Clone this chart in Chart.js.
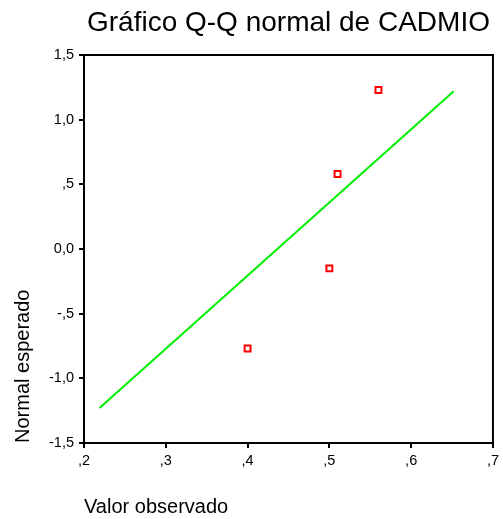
<!DOCTYPE html>
<html>
<head>
<meta charset="utf-8">
<script src="https://cdn.jsdelivr.net/npm/chart.js@4/dist/chart.umd.min.js"></script>
<style>
  html, body { margin: 0; padding: 0; background: #fff; }
  #wrap { width: 503px; height: 519px; }
</style>
</head>
<body>
<div id="wrap"><canvas id="qq"></canvas></div>
<script>
// Observed CADMIO values and their expected normal scores
const observed = [0.40, 0.50, 0.51, 0.56];
const expectedNormal = [-0.77, -0.15, 0.58, 1.23];

// Reference line endpoints (observed value -> expected normal)
const refLineX = [0.219, 0.652];
const refLineY = [-1.23, 1.22];

// Axis tick labels (SPSS-style decimal comma)
const xTickValues = [0.2, 0.3, 0.4, 0.5, 0.6, 0.7];
const xTickLabels = [',2', ',3', ',4', ',5', ',6', ',7'];
const yTickValues = [-1.5, -1.0, -0.5, 0.0, 0.5, 1.0, 1.5];
const yTickLabels = ['-1,5', '-1,0', '-,5', '0,0', ',5', '1,0', '1,5'];

const FONT = "'Liberation Sans', Arial, Helvetica, sans-serif";

function labelFor(values, labels, v) {
  const i = values.findIndex(t => Math.abs(t - v) < 1e-6);
  return i >= 0 ? labels[i] : '';
}

// Closed black frame round the plot area
const frame = {
  id: 'frame',
  afterDatasetsDraw(chart) {
    const { ctx, chartArea: a } = chart;
    ctx.save();
    ctx.strokeStyle = '#000';
    ctx.lineWidth = 2;
    ctx.strokeRect(a.left, a.top, a.right - a.left, a.bottom - a.top);
    ctx.restore();
  }
};

new Chart(document.getElementById('qq'), {
  type: 'scatter',
  data: {
    datasets: [
      {
        label: 'Observado',
        data: observed.map((x, i) => ({ x, y: expectedNormal[i] })),
        pointStyle: 'rect',
        pointRadius: 4.2,
        pointHoverRadius: 4.2,
        borderColor: '#ff0000',
        backgroundColor: '#ffffff',
        borderWidth: 2,
        showLine: false,
        order: 1
      },
      {
        label: 'Recta',
        data: refLineX.map((x, i) => ({ x, y: refLineY[i] })),
        showLine: true,
        borderColor: '#00ee00',
        borderWidth: 2,
        pointRadius: 0,
        fill: false,
        order: 2
      }
    ]
  },
  options: {
    responsive: true,
    maintainAspectRatio: false,
    animation: false,
    layout: { padding: { top: 0, right: 7, bottom: 0, left: 0 } },
    plugins: {
      legend: { display: false },
      tooltip: { enabled: false },
      title: {
        display: true,
        text: 'Gráfico Q-Q normal de CADMIO',
        fullSize: false,
        color: '#000',
        font: { family: FONT, size: 28, weight: 'normal', lineHeight: 1.2 },
        padding: { top: 6.5, bottom: 14.9 }
      }
    },
    scales: {
      x: {
        type: 'linear',
        min: 0.2,
        max: 0.7,
        afterFit(scale) { scale.height = 76; },
        afterBuildTicks(scale) { scale.ticks = xTickValues.map(v => ({ value: v })); },
        ticks: {
          color: '#000',
          font: { family: FONT, size: 14.5 },
          padding: 4,
          maxRotation: 0,
          callback: v => labelFor(xTickValues, xTickLabels, v)
        },
        grid: { drawOnChartArea: false, drawTicks: true, tickLength: 5, color: '#000', lineWidth: 2 },
        border: { display: true, color: '#000', width: 2 },
        title: {
          display: true,
          text: 'Valor observado',
          align: 'start',
          color: '#000',
          font: { family: FONT, size: 20 },
          padding: { top: 0, bottom: 0 }
        }
      },
      y: {
        type: 'linear',
        min: -1.5,
        max: 1.5,
        afterFit(scale) { scale.width = 84; },
        afterBuildTicks(scale) { scale.ticks = yTickValues.map(v => ({ value: v })); },
        ticks: {
          color: '#000',
          font: { family: FONT, size: 14.5 },
          padding: 5,
          callback: v => labelFor(yTickValues, yTickLabels, v)
        },
        grid: { drawOnChartArea: false, drawTicks: true, tickLength: 5, color: '#000', lineWidth: 2 },
        border: { display: true, color: '#000', width: 2 },
        title: {
          display: true,
          text: 'Normal esperado',
          align: 'start',
          color: '#000',
          font: { family: FONT, size: 20 },
          padding: { top: 11, bottom: 0 }
        }
      }
    }
  },
  plugins: [frame]
});
</script>
</body>
</html>
